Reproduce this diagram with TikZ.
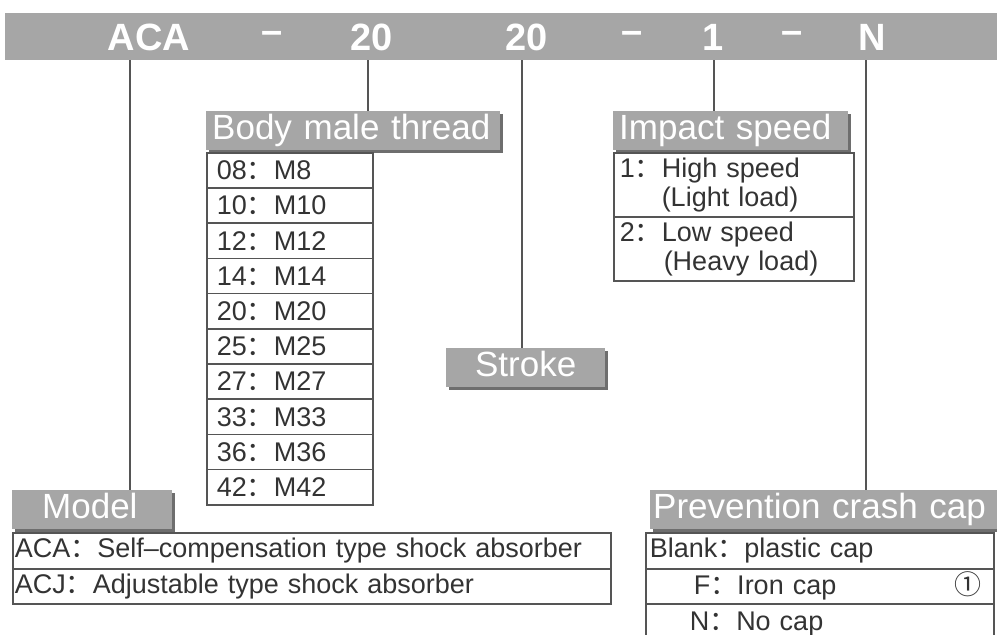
\documentclass[tikz,border=0pt]{standalone}
\usepackage{fontspec}
\setmainfont{Liberation Sans}
\newfontfamily\cjk{Noto Sans CJK SC}
\usetikzlibrary{shadows}
\newcommand{\fwc}{{\cjk ：}}
\definecolor{bandgray}{HTML}{A6A6A6}
\definecolor{shadegray}{HTML}{6E6E6E}
\definecolor{inkgray}{HTML}{333333}
\definecolor{rulegray}{HTML}{555555}
\tikzset{
  lbl/.style={fill=bandgray, text=white, anchor=north west, inner xsep=6pt, inner ysep=0pt,
    minimum height=39, text height=25, text depth=7, align=left, font=\fontsize{35}{35}\selectfont,
    drop shadow={shadow xshift=3pt, shadow yshift=-3pt, fill=shadegray, opacity=1}},
  cell/.style={draw=rulegray, line width=1.5pt, anchor=north west, inner xsep=7pt,
    inner ysep=0pt, align=left, text=inkgray, font=\fontsize{27}{29}\selectfont},
  lead/.style={draw=rulegray, line width=1.5pt}
}
\begin{document}
\begin{tikzpicture}[x=1pt,y=-1pt]
    \useasboundingbox (0,0) rectangle (997,635);

    % Code band
    \node[fill=bandgray, anchor=north west, minimum width=992, minimum height=47, inner sep=0pt] (band) at (5,13) {};
    \foreach \txt/\px/\nm in {ACA/149/aca, –/272/d1, 20/372/thr, 20/527/stk, –/632/d2, 1/713/spd, –/792/d3, N/872/cap}
      \node[text=white, font=\bfseries\fontsize{38}{38}\selectfont] (code\nm) at (\px,37) {\txt};

    % Group labels
    \node[lbl, text width=282] (thread) at (206,111) {Body male thread};
    \node[lbl, text width=147, align=center] (stroke) at (446,348) {Stroke};
    \node[lbl, text width=223] (speed) at (613,111) {Impact speed};
    \node[lbl, text width=148] (model) at (12,490) {\hspace*{24pt}Model};
    \node[lbl, text width=341, inner xsep=3pt] (crash) at (650,490) {Prevention crash cap};

    % Leads from the band
    \coordinate (tModel) at (130,60);
    \coordinate (tThread) at (368,60);
    \coordinate (tStroke) at (522,60);
    \coordinate (tSpeed) at (714,60);
    \coordinate (tCrash) at (866,60);
    \draw[lead] (tModel) -- (tModel |- model.north);
    \draw[lead] (tThread) -- (tThread |- thread.north);
    \draw[lead] (tStroke) -- (tStroke |- stroke.north);
    \draw[lead] (tSpeed) -- (tSpeed |- speed.north);
    \draw[lead] (tCrash) -- (tCrash |- crash.north);

    % Body male thread table
    \foreach \cd/\md [count=\i] in {08/8, 10/10, 12/12, 14/14, 20/20, 25/25, 27/27, 33/33, 36/36, 42/42}
      \node[cell, minimum width=166, minimum height=35.2, text width=146, inner xsep=10pt] (th\i) at (206,{152+35.2*(\i-1)}) {\cd\fwc M\md};

    % Impact speed table
    \node[cell, minimum width=240, minimum height=64, text width=228, inner xsep=6pt] (sp1) at (613,152)
      {1\fwc High speed\\\hspace*{42pt}(Light load)};
    \node[cell, minimum width=240, minimum height=64, text width=228, inner xsep=6pt] (sp2) at (613,216)
      {2\fwc Low speed\\\hspace*{44pt}(Heavy load)};

    % Model table
    \node[cell, minimum width=598, minimum height=36, text width=594, inner xsep=2pt] (md1) at (12,532)
      {ACA\fwc Self–compensation type shock absorber};
    \node[cell, minimum width=598, minimum height=35, text width=594, inner xsep=2pt] (md2) at (12,568)
      {ACJ\fwc Adjustable type shock absorber};

    % Prevention crash cap table
    \node[cell, minimum width=348, minimum height=36, text width=340, inner xsep=4pt] (cp1) at (645,532)
      {Blank\fwc plastic cap};
    \node[cell, minimum width=348, minimum height=35, text width=340, inner xsep=4pt] (cp2) at (645,568)
      {\hspace*{44pt}F\fwc Iron cap\hfill{\cjk ①}\hspace*{8pt}};
    \node[cell, minimum width=348, minimum height=40, text width=340, inner xsep=4pt] (cp3) at (645,603)
      {\hspace*{40pt}N\fwc No cap};
\end{tikzpicture}
\end{document}
